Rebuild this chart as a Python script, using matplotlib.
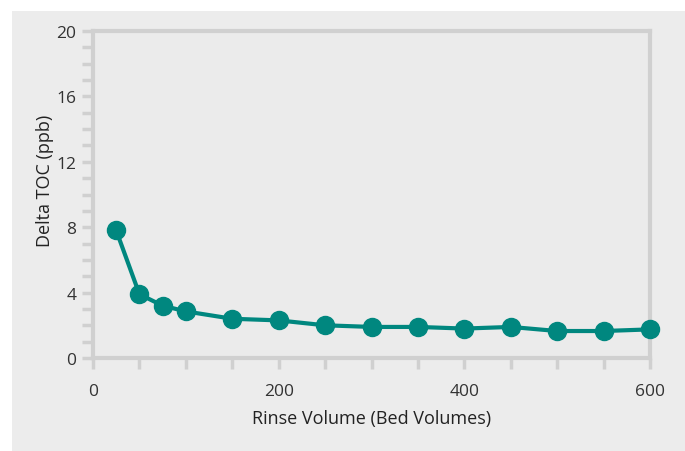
import matplotlib.pyplot as plt
from matplotlib.patches import Rectangle
from matplotlib.ticker import MultipleLocator

# rinse data
bed_volumes = [25, 50, 75, 100, 150, 200, 250, 300, 350, 400, 450, 500, 550, 600]
delta_toc = [7.8, 3.9, 3.2, 2.85, 2.4, 2.3, 2.0, 1.9, 1.9, 1.8, 1.9, 1.65, 1.65, 1.75]

plt.rcParams['font.family'] = ['Open Sans', 'DejaVu Sans']

W, H = 685, 452
fig = plt.figure(figsize=(W / 100, H / 100), dpi=100)
fig.patch.set_facecolor('white')

# gray panel behind the chart
fig.patches.append(Rectangle((12 / W, 0), 1 - 12 / W, 1 - 12 / H,
                             transform=fig.transFigure, facecolor='#ececec',
                             edgecolor='none', zorder=-1))

ax = fig.add_axes([93 / W, 1 - 359 / H, (650 - 93) / W, (359 - 32) / H])
ax.set_facecolor('#ebebeb')

ax.plot(bed_volumes, delta_toc, color='#00877f', lw=3, marker='o',
        markersize=13, clip_on=False, zorder=3)

ax.set_xlim(0, 600)
ax.set_ylim(0, 20)
ax.xaxis.set_major_locator(MultipleLocator(200))
ax.xaxis.set_minor_locator(MultipleLocator(50))
ax.yaxis.set_major_locator(MultipleLocator(4))
ax.yaxis.set_minor_locator(MultipleLocator(1))

spine_col = '#d0d0d0'
for s in ax.spines.values():
    s.set_color(spine_col)
    s.set_linewidth(3)

ax.tick_params(which='both', color=spine_col, width=2.5, labelcolor='#333333',
               labelsize=12.5)
ax.tick_params(which='major', length=8, pad=4)
ax.tick_params(which='minor', length=8)
ax.tick_params(axis='x', pad=10)

ax.set_xlabel('Rinse Volume (Bed Volumes)', fontsize=13, color='#222222', labelpad=7)
ax.set_ylabel('Delta TOC (ppb)', fontsize=13, color='#222222', labelpad=2)
ax.yaxis.label.set_y(0.545)

fig.savefig('out.png', dpi=100)
